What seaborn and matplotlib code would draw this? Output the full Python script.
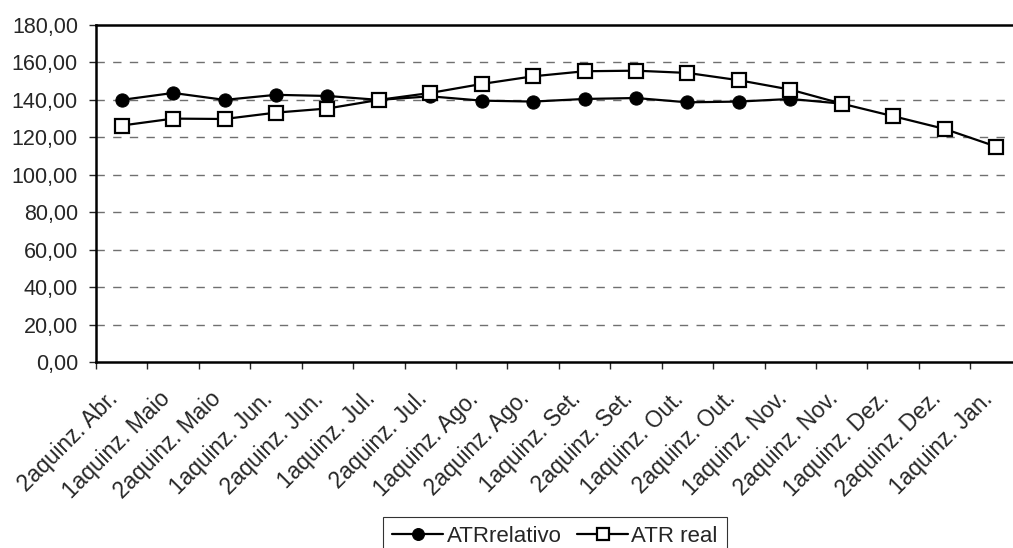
import matplotlib
matplotlib.use("Agg")
import matplotlib.pyplot as plt
import matplotlib.ticker as mticker
import matplotlib.transforms as mtransforms
import pandas as pd
import seaborn as sns

# categories (half-month periods)
CATEGORIES = [
    "2aquinz. Abr.", "1aquinz. Maio", "2aquinz. Maio", "1aquinz. Jun.",
    "2aquinz. Jun.", "1aquinz. Jul.", "2aquinz. Jul.", "1aquinz. Ago.",
    "2aquinz. Ago.", "1aquinz. Set.", "2aquinz. Set.", "1aquinz. Out.",
    "2aquinz. Out.", "1aquinz. Nov.", "2aquinz. Nov.", "1aquinz. Dez.",
    "2aquinz. Dez.", "1aquinz. Jan.",
]

# series values
ATR_RELATIVO = [140.0, 143.7, 140.0, 142.7, 142.1, 140.0, 141.9, 139.6,
                139.1, 140.5, 141.0, 138.7, 139.1, 140.5, 138.0]
ATR_REAL = [126.3, 130.0, 129.8, 133.2, 135.4, 140.0, 143.7, 148.5, 152.6,
            155.3, 155.6, 154.4, 150.5, 145.5, 138.0, 131.3, 124.5, 115.1]

Y_TICKS = [0, 20, 40, 60, 80, 100, 120, 140, 160, 180]

Y_FONT_SIZE = 15.5
X_FONT_SIZE = 16.3
LEGEND_FONT_SIZE = 16

sns.set_style("white")
plt.rcParams["font.family"] = ["Liberation Sans", "DejaVu Sans"]

df_rel = pd.DataFrame({"periodo": CATEGORIES[:len(ATR_RELATIVO)],
                       "valor": ATR_RELATIVO, "serie": "ATRrelativo"})
df_real = pd.DataFrame({"periodo": CATEGORIES[:len(ATR_REAL)],
                        "valor": ATR_REAL, "serie": "ATR real"})

fig = plt.figure(figsize=(10.13, 5.48), dpi=100)
ax = fig.add_axes([96 / 1013, 1 - 362 / 548, 925.7 / 1013, 337 / 548])

# gridlines first so the lines sit on top
for y in Y_TICKS[1:-1]:
    ax.axhline(y, color="#707070", lw=1.0, ls=(0, (6, 6)), zorder=0)

sns.lineplot(data=df_real, x="periodo", y="valor", ax=ax, sort=False,
             color="black", lw=1.6, marker="s", markersize=9.5,
             markerfacecolor="white", markeredgecolor="black",
             markeredgewidth=1.6, label="ATR real", zorder=3)
sns.lineplot(data=df_rel, x="periodo", y="valor", ax=ax, sort=False,
             color="black", lw=1.6, marker="o", markersize=9.5,
             markerfacecolor="black", markeredgecolor="black",
             label="ATRrelativo", zorder=2)

ax.set_xlim(-0.5, len(CATEGORIES) - 0.5)
ax.set_ylim(0, 180)
ax.set_xlabel("")
ax.set_ylabel("")

ax.set_yticks(Y_TICKS)
ax.yaxis.set_major_formatter(
    mticker.FuncFormatter(lambda v, p: f"{v:.2f}".replace(".", ",")))
ax.tick_params(axis="y", direction="out", length=5, width=1,
               labelsize=Y_FONT_SIZE, pad=8, left=True)

ax.set_xticks(range(len(CATEGORIES)))
ax.set_xticklabels(CATEGORIES, rotation=45, ha="right", va="center",
                   rotation_mode="anchor")
ax.set_xticks([i - 0.5 for i in range(len(CATEGORIES) + 1)], minor=True)
ax.tick_params(axis="x", which="major", length=0, labelsize=X_FONT_SIZE,
               pad=24)
ax.tick_params(axis="x", which="minor", direction="out", length=5, width=1,
               bottom=True)

# nudge the rotated labels a little to the left, like the original
shift = mtransforms.ScaledTranslation(-7 / 100, 0, fig.dpi_scale_trans)
for lbl in ax.get_xticklabels():
    lbl.set_transform(lbl.get_transform() + shift)

for side in ["left", "bottom", "top"]:
    ax.spines[side].set_visible(True)
    ax.spines[side].set_color("black")
    ax.spines[side].set_linewidth(1.8)
ax.spines["right"].set_visible(False)

handles, labels = ax.get_legend_handles_labels()
order = [labels.index("ATRrelativo"), labels.index("ATR real")]
ax.legend([handles[i] for i in order], [labels[i] for i in order],
          loc="lower center", bbox_to_anchor=(555 / 1013, -0.035),
          bbox_transform=fig.transFigure, ncol=2, frameon=True,
          fancybox=False, edgecolor="black", fontsize=LEGEND_FONT_SIZE,
          handlelength=2.3, handletextpad=0.15, columnspacing=0.7,
          borderpad=0.4, markerscale=0.9)
ax.get_legend().get_frame().set_linewidth(0.8)

fig.savefig("out.png", dpi=100)
